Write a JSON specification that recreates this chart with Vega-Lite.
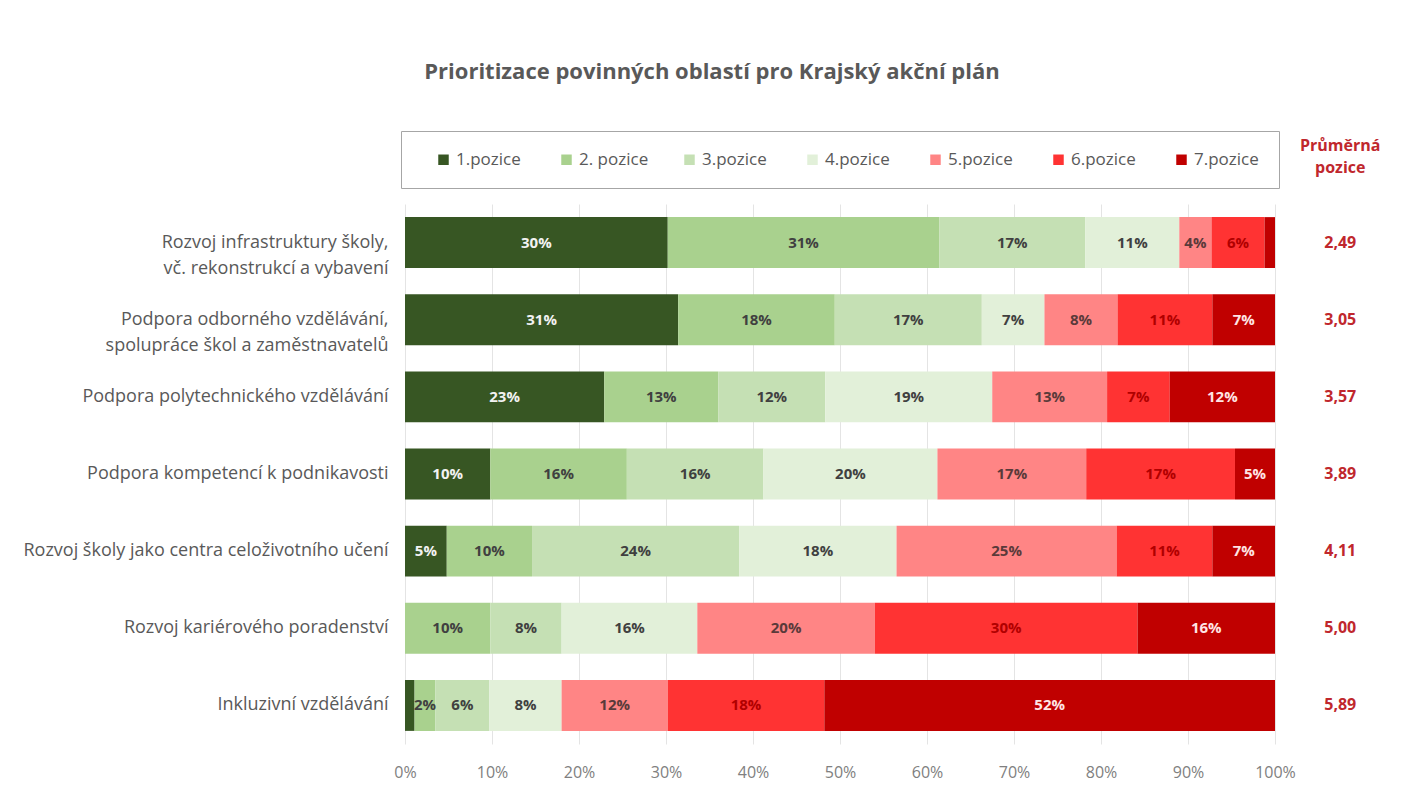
{
  "$schema": "https://vega.github.io/schema/vega-lite/v6.json",
  "autosize": {"type": "none"},
  "width": 870,
  "height": 540,
  "padding": {"left": 405, "top": 204, "right": 133, "bottom": 63},
  "background": "white",
  "config": {
    "font": "Open Sans",
    "view": {"stroke": null},
    "locale": {"number": {"decimal": ",", "thousands": " ", "grouping": [3], "currency": ["", " Kč"]}}
  },
  "title": {
    "text": "Prioritizace povinných oblastí pro Krajský akční plán",
    "fontSize": 22,
    "fontWeight": "bold",
    "color": "#595959",
    "anchor": "middle",
    "dx": -128,
    "offset": 47
  },
  "datasets": {
    "main": [
      {"oblast": "Rozvoj infrastruktury školy, vč. rekonstrukcí a vybavení", "pozice": "1.pozice", "poradi": 1, "podil": 0.302},
      {"oblast": "Rozvoj infrastruktury školy, vč. rekonstrukcí a vybavení", "pozice": "2. pozice", "poradi": 2, "podil": 0.312},
      {"oblast": "Rozvoj infrastruktury školy, vč. rekonstrukcí a vybavení", "pozice": "3.pozice", "poradi": 3, "podil": 0.168},
      {"oblast": "Rozvoj infrastruktury školy, vč. rekonstrukcí a vybavení", "pozice": "4.pozice", "poradi": 4, "podil": 0.108},
      {"oblast": "Rozvoj infrastruktury školy, vč. rekonstrukcí a vybavení", "pozice": "5.pozice", "poradi": 5, "podil": 0.037},
      {"oblast": "Rozvoj infrastruktury školy, vč. rekonstrukcí a vybavení", "pozice": "6.pozice", "poradi": 6, "podil": 0.061},
      {"oblast": "Rozvoj infrastruktury školy, vč. rekonstrukcí a vybavení", "pozice": "7.pozice", "poradi": 7, "podil": 0.012},
      {"oblast": "Podpora odborného vzdělávání, spolupráce škol a zaměstnavatelů", "pozice": "1.pozice", "poradi": 1, "podil": 0.314},
      {"oblast": "Podpora odborného vzdělávání, spolupráce škol a zaměstnavatelů", "pozice": "2. pozice", "poradi": 2, "podil": 0.180},
      {"oblast": "Podpora odborného vzdělávání, spolupráce škol a zaměstnavatelů", "pozice": "3.pozice", "poradi": 3, "podil": 0.169},
      {"oblast": "Podpora odborného vzdělávání, spolupráce škol a zaměstnavatelů", "pozice": "4.pozice", "poradi": 4, "podil": 0.072},
      {"oblast": "Podpora odborného vzdělávání, spolupráce škol a zaměstnavatelů", "pozice": "5.pozice", "poradi": 5, "podil": 0.084},
      {"oblast": "Podpora odborného vzdělávání, spolupráce škol a zaměstnavatelů", "pozice": "6.pozice", "poradi": 6, "podil": 0.109},
      {"oblast": "Podpora odborného vzdělávání, spolupráce škol a zaměstnavatelů", "pozice": "7.pozice", "poradi": 7, "podil": 0.072},
      {"oblast": "Podpora polytechnického vzdělávání", "pozice": "1.pozice", "poradi": 1, "podil": 0.229},
      {"oblast": "Podpora polytechnického vzdělávání", "pozice": "2. pozice", "poradi": 2, "podil": 0.131},
      {"oblast": "Podpora polytechnického vzdělávání", "pozice": "3.pozice", "poradi": 3, "podil": 0.123},
      {"oblast": "Podpora polytechnického vzdělávání", "pozice": "4.pozice", "poradi": 4, "podil": 0.192},
      {"oblast": "Podpora polytechnického vzdělávání", "pozice": "5.pozice", "poradi": 5, "podil": 0.132},
      {"oblast": "Podpora polytechnického vzdělávání", "pozice": "6.pozice", "poradi": 6, "podil": 0.072},
      {"oblast": "Podpora polytechnického vzdělávání", "pozice": "7.pozice", "poradi": 7, "podil": 0.121},
      {"oblast": "Podpora kompetencí k podnikavosti", "pozice": "1.pozice", "poradi": 1, "podil": 0.098},
      {"oblast": "Podpora kompetencí k podnikavosti", "pozice": "2. pozice", "poradi": 2, "podil": 0.157},
      {"oblast": "Podpora kompetencí k podnikavosti", "pozice": "3.pozice", "poradi": 3, "podil": 0.157},
      {"oblast": "Podpora kompetencí k podnikavosti", "pozice": "4.pozice", "poradi": 4, "podil": 0.200},
      {"oblast": "Podpora kompetencí k podnikavosti", "pozice": "5.pozice", "poradi": 5, "podil": 0.171},
      {"oblast": "Podpora kompetencí k podnikavosti", "pozice": "6.pozice", "poradi": 6, "podil": 0.171},
      {"oblast": "Podpora kompetencí k podnikavosti", "pozice": "7.pozice", "poradi": 7, "podil": 0.046},
      {"oblast": "Rozvoj školy jako centra celoživotního učení", "pozice": "1.pozice", "poradi": 1, "podil": 0.048},
      {"oblast": "Rozvoj školy jako centra celoživotního učení", "pozice": "2. pozice", "poradi": 2, "podil": 0.098},
      {"oblast": "Rozvoj školy jako centra celoživotního učení", "pozice": "3.pozice", "poradi": 3, "podil": 0.238},
      {"oblast": "Rozvoj školy jako centra celoživotního učení", "pozice": "4.pozice", "poradi": 4, "podil": 0.181},
      {"oblast": "Rozvoj školy jako centra celoživotního učení", "pozice": "5.pozice", "poradi": 5, "podil": 0.253},
      {"oblast": "Rozvoj školy jako centra celoživotního učení", "pozice": "6.pozice", "poradi": 6, "podil": 0.110},
      {"oblast": "Rozvoj školy jako centra celoživotního učení", "pozice": "7.pozice", "poradi": 7, "podil": 0.072},
      {"oblast": "Rozvoj kariérového poradenství", "pozice": "1.pozice", "poradi": 1, "podil": 0.0},
      {"oblast": "Rozvoj kariérového poradenství", "pozice": "2. pozice", "poradi": 2, "podil": 0.098},
      {"oblast": "Rozvoj kariérového poradenství", "pozice": "3.pozice", "poradi": 3, "podil": 0.082},
      {"oblast": "Rozvoj kariérového poradenství", "pozice": "4.pozice", "poradi": 4, "podil": 0.156},
      {"oblast": "Rozvoj kariérového poradenství", "pozice": "5.pozice", "poradi": 5, "podil": 0.204},
      {"oblast": "Rozvoj kariérového poradenství", "pozice": "6.pozice", "poradi": 6, "podil": 0.302},
      {"oblast": "Rozvoj kariérového poradenství", "pozice": "7.pozice", "poradi": 7, "podil": 0.158},
      {"oblast": "Inkluzivní vzdělávání", "pozice": "1.pozice", "poradi": 1, "podil": 0.011},
      {"oblast": "Inkluzivní vzdělávání", "pozice": "2. pozice", "poradi": 2, "podil": 0.024},
      {"oblast": "Inkluzivní vzdělávání", "pozice": "3.pozice", "poradi": 3, "podil": 0.062},
      {"oblast": "Inkluzivní vzdělávání", "pozice": "4.pozice", "poradi": 4, "podil": 0.083},
      {"oblast": "Inkluzivní vzdělávání", "pozice": "5.pozice", "poradi": 5, "podil": 0.122},
      {"oblast": "Inkluzivní vzdělávání", "pozice": "6.pozice", "poradi": 6, "podil": 0.180},
      {"oblast": "Inkluzivní vzdělávání", "pozice": "7.pozice", "poradi": 7, "podil": 0.518}
    ],
    "prumer": [
      {"oblast": "Rozvoj infrastruktury školy, vč. rekonstrukcí a vybavení", "prumer": 2.49},
      {"oblast": "Podpora odborného vzdělávání, spolupráce škol a zaměstnavatelů", "prumer": 3.05},
      {"oblast": "Podpora polytechnického vzdělávání", "prumer": 3.57},
      {"oblast": "Podpora kompetencí k podnikavosti", "prumer": 3.89},
      {"oblast": "Rozvoj školy jako centra celoživotního učení", "prumer": 4.11},
      {"oblast": "Rozvoj kariérového poradenství", "prumer": 5.00},
      {"oblast": "Inkluzivní vzdělávání", "prumer": 5.89}
    ]
  },
  "layer": [
    {
      "data": {"name": "main"},
      "transform": [
        {"stack": "podil", "groupby": ["oblast"], "sort": [{"field": "poradi", "order": "ascending"}], "as": ["x0", "x1"]}
      ],
      "mark": {"type": "bar"},
      "encoding": {
        "y": {
          "field": "oblast",
          "type": "nominal",
          "title": null,
          "scale": {
            "domain": [
              "Rozvoj infrastruktury školy, vč. rekonstrukcí a vybavení",
              "Podpora odborného vzdělávání, spolupráce škol a zaměstnavatelů",
              "Podpora polytechnického vzdělávání",
              "Podpora kompetencí k podnikavosti",
              "Rozvoj školy jako centra celoživotního učení",
              "Rozvoj kariérového poradenství",
              "Inkluzivní vzdělávání"
            ],
            "paddingInner": 0.34,
            "paddingOuter": 0.17
          },
          "axis": {
            "domain": false,
            "ticks": false,
            "labelPadding": 17,
            "labelFontSize": 18,
            "labelColor": "#595959",
            "labelLimit": 420,
            "labelLineHeight": 26,
            "labelExpr": "indexof(datum.label, ', ') > 0 ? [substring(datum.label, 0, indexof(datum.label, ', ') + 1), substring(datum.label, indexof(datum.label, ', ') + 2)] : datum.label"
          }
        },
        "x": {
          "field": "x0",
          "type": "quantitative",
          "title": null,
          "scale": {"domain": [0, 1], "nice": false},
          "axis": {
            "format": "%",
            "values": [0, 0.1, 0.2, 0.3, 0.4, 0.5, 0.6, 0.7, 0.8, 0.9, 1],
            "domain": false,
            "ticks": false,
            "labelFlush": false,
            "labelPadding": 20,
            "labelFontSize": 16,
            "labelColor": "#808080",
            "grid": true,
            "gridColor": "#e4e4e4"
          }
        },
        "x2": {"field": "x1"},
        "color": {
          "field": "pozice",
          "type": "nominal",
          "scale": {
            "domain": ["1.pozice", "2. pozice", "3.pozice", "4.pozice", "5.pozice", "6.pozice", "7.pozice"],
            "range": ["#375623", "#a9d18e", "#c5e0b4", "#e2f0d9", "#ff8585", "#ff3333", "#c00000"]
          },
          "legend": {
            "orient": "none",
            "legendX": -4,
            "legendY": -73,
            "direction": "horizontal",
            "columns": 7,
            "title": null,
            "symbolType": "square",
            "symbolSize": 110,
            "symbolStrokeWidth": 0,
            "labelFontSize": 17,
            "labelColor": "#595959",
            "labelOffset": 4,
            "padding": 20,
            "strokeColor": "#a6a6a6",
            "fillColor": "white",
            "columnPadding": 18,
            "gridAlign": "all",
            "symbolOffset": 14
          }
        }
      }
    },
    {
      "data": {"name": "main"},
      "transform": [
        {"stack": "podil", "groupby": ["oblast"], "sort": [{"field": "poradi", "order": "ascending"}], "as": ["x0", "x1"]},
        {"calculate": "(datum.x0 + datum.x1) / 2", "as": "stred"},
        {"filter": "datum.podil >= 0.015"}
      ],
      "mark": {"type": "text", "fontSize": 15, "fontWeight": "bold"},
      "encoding": {
        "y": {"field": "oblast", "type": "nominal", "title": null},
        "x": {"field": "stred", "type": "quantitative", "title": null},
        "text": {"field": "podil", "type": "quantitative", "format": ".0%"},
        "color": {
          "field": "pozice",
          "type": "nominal",
          "legend": null,
          "scale": {
            "domain": ["1.pozice", "2. pozice", "3.pozice", "4.pozice", "5.pozice", "6.pozice", "7.pozice"],
            "range": ["#f2f2f2", "#404040", "#404040", "#404040", "#5a3a3a", "#b00000", "#ffe5e5"]
          }
        }
      }
    },
    {
      "data": {"name": "prumer"},
      "mark": {"type": "text", "fontSize": 16, "fontWeight": "bold", "color": "#c0272d"},
      "encoding": {
        "y": {"field": "oblast", "type": "nominal", "title": null},
        "x": {"datum": 1.075, "type": "quantitative"},
        "text": {"field": "prumer", "type": "quantitative", "format": ".2f"}
      }
    },
    {
      "data": {"values": [{"oblast": "Rozvoj infrastruktury školy, vč. rekonstrukcí a vybavení"}]},
      "mark": {"type": "text", "text": ["Průměrná", "pozice"], "fontSize": 16, "fontWeight": "bold", "color": "#c0272d", "baseline": "top", "lineHeight": 22, "dy": -105},
      "encoding": {
        "y": {"field": "oblast", "type": "nominal", "title": null},
        "x": {"datum": 1.075, "type": "quantitative"}
      }
    }
  ],
  "resolve": {"scale": {"color": "independent"}}
}
